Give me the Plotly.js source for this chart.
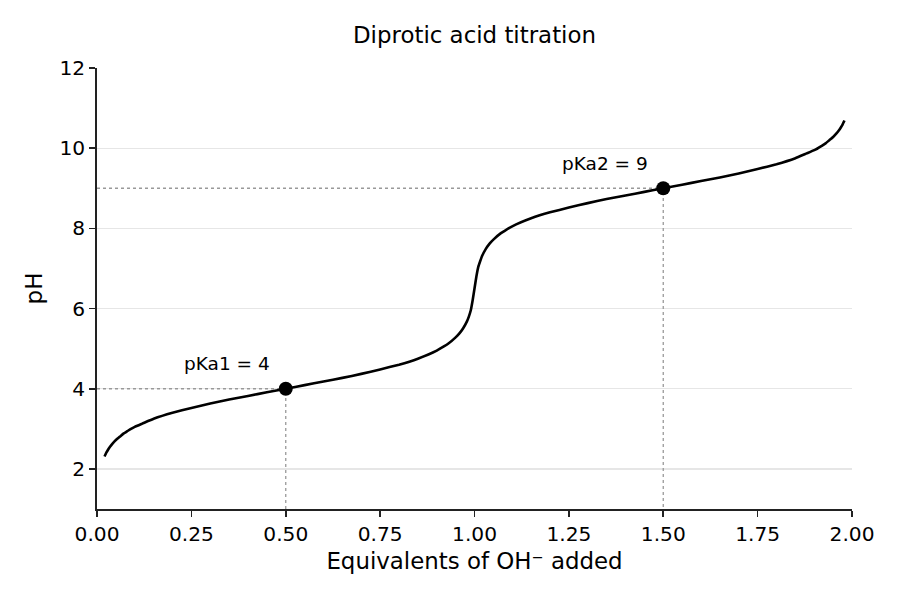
<!DOCTYPE html>
<html>
<head>
<meta charset="utf-8">
<script src="https://cdn.plot.ly/plotly-3.0.1.min.js"></script>
<style>
  body { margin: 0; background: #fff; }
  #chart { width: 900px; height: 600px; }
</style>
</head>
<body>
<div id="chart"></div>
<script>
// titration curve (equivalents of base vs pH)
var equivalents = [0.02, 0.025, 0.03, 0.035, 0.04, 0.05, 0.06, 0.07, 0.08, 0.09, 0.10, 0.12,
	0.15, 0.20, 0.25, 0.30, 0.35, 0.40, 0.45, 0.50, 0.55, 0.60, 0.65, 0.70, 0.75, 0.80,
	0.85, 0.90, 0.92, 0.93, 0.95, 0.96, 0.97, 0.98, 0.985, 0.99, 0.995, 1.00, 1.005, 1.01,
	1.015, 1.02, 1.03, 1.04, 1.05, 1.07, 1.08, 1.10, 1.15, 1.20, 1.25, 1.30, 1.35, 1.40,
	1.45, 1.50, 1.55, 1.60, 1.65, 1.70, 1.75, 1.80, 1.85, 1.88, 1.90, 1.92, 1.93, 1.94,
	1.95, 1.96, 1.965, 1.97, 1.975, 1.98];
var phValues = [2.31, 2.41, 2.49, 2.56, 2.62, 2.72, 2.80, 2.88, 2.94, 3.00, 3.05, 3.13,
	3.25, 3.40, 3.52, 3.63, 3.73, 3.82, 3.91, 4.00, 4.09, 4.18, 4.27, 4.37, 4.48, 4.60,
	4.75, 4.95, 5.06, 5.12, 5.28, 5.38, 5.51, 5.68, 5.80, 5.95, 6.20, 6.50, 6.80, 7.04,
	7.18, 7.31, 7.49, 7.62, 7.72, 7.88, 7.94, 8.05, 8.25, 8.40, 8.52, 8.63, 8.73, 8.82,
	8.91, 9.00, 9.09, 9.18, 9.27, 9.37, 9.48, 9.60, 9.75, 9.87, 9.95, 10.06, 10.12, 10.20,
	10.28, 10.38, 10.44, 10.51, 10.59, 10.69];

// half-equivalence points
var halfEq = [0.5, 1.5];
var pKa = [4, 9];
var pKaLabels = ["pKa1 = 4", "pKa2 = 9"];
var labelX = [0.345, 1.345];
var labelY = [4.62, 9.63];

var font = "DejaVu Sans, sans-serif";

var traces = [];

// dotted guide lines to the axes
for (var i = 0; i < halfEq.length; i++) {
	traces.push({
		x: [0, halfEq[i], halfEq[i]],
		y: [pKa[i], pKa[i], 1],
		mode: "lines",
		line: {color: "#999999", width: 1.3, dash: "dot"},
		hoverinfo: "skip",
		showlegend: false
	});
}

traces.push({
	x: equivalents,
	y: phValues,
	mode: "lines",
	line: {color: "#000000", width: 2.6, shape: "spline", smoothing: 0.3},
	showlegend: false
});

traces.push({
	x: halfEq,
	y: pKa,
	mode: "markers",
	marker: {color: "#000000", size: 14},
	showlegend: false
});

var annotations = [];
for (var j = 0; j < pKaLabels.length; j++) {
	annotations.push({
		x: labelX[j], y: labelY[j], xref: "x", yref: "y",
		text: pKaLabels[j], showarrow: false,
		font: {family: font, size: 18.5, color: "#000"}
	});
}

var layout = {
	width: 900,
	height: 600,
	margin: {l: 97, r: 48, t: 68, b: 91},
	paper_bgcolor: "#ffffff",
	plot_bgcolor: "#ffffff",
	font: {family: font, color: "#000"},
	title: {text: "Diprotic acid titration", xref: "paper", x: 0.5, xanchor: "center",
		yref: "container", y: 0.942, yanchor: "middle",
		font: {family: font, size: 22.9, color: "#000"}},
	xaxis: {
		range: [0, 2],
		tickvals: [0, 0.25, 0.5, 0.75, 1, 1.25, 1.5, 1.75, 2],
		ticktext: ["0.00", "0.25", "0.50", "0.75", "1.00", "1.25", "1.50", "1.75", "2.00"],
		showgrid: false, zeroline: false,
		showline: true, linecolor: "#222", linewidth: 1.8,
		ticks: "outside", ticklen: 6, tickwidth: 1.6, tickcolor: "#222",
		tickfont: {family: font, size: 20.2, color: "#000"},
		title: {text: "Equivalents of OH⁻ added", font: {family: font, size: 22.9, color: "#000"}, standoff: 8}
	},
	yaxis: {
		range: [1, 12],
		tickvals: [2, 4, 6, 8, 10, 12],
		showgrid: true, gridcolor: "#e6e6e6", gridwidth: 1.2,
		zeroline: false,
		showline: true, linecolor: "#222", linewidth: 1.8,
		ticks: "outside", ticklen: 6, tickwidth: 1.6, tickcolor: "#222",
		tickfont: {family: font, size: 20.2, color: "#000"},
		title: {text: "pH", font: {family: font, size: 22.9, color: "#000"}, standoff: 10}
	},
	annotations: annotations
};

Plotly.newPlot("chart", traces, layout, {displayModeBar: false, staticPlot: true});
</script>
</body>
</html>
